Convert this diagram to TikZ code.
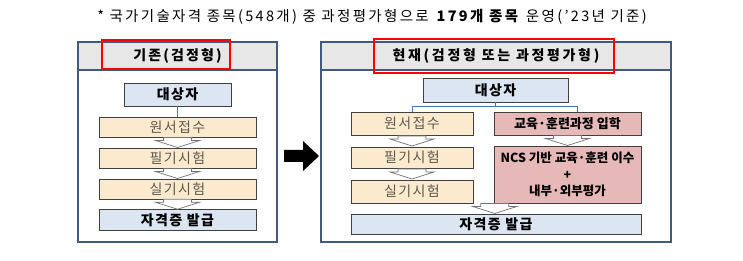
\documentclass[tikz,border=0pt]{standalone}
\usepackage{fontspec}
\setmainfont{Noto Sans CJK KR}
\usetikzlibrary{positioning,calc}
\definecolor{panelblue}{RGB}{65,90,125}
\definecolor{hdrgray}{RGB}{231,231,231}
\definecolor{boxblue}{RGB}{220,230,242}
\definecolor{boxbeige}{RGB}{252,234,206}
\definecolor{boxpink}{RGB}{230,185,184}
\definecolor{boxline}{RGB}{64,64,64}
\definecolor{linkblue}{RGB}{68,114,196}
\definecolor{steptext}{RGB}{95,88,80}
\tikzset{
  panel/.style    ={draw=panelblue,line width=1.2pt,fill=white,inner sep=0pt},
  hdrstrip/.style ={draw=panelblue,line width=1.2pt,fill=hdrgray,inner sep=0pt,
                    font=\fontsize{14}{16}\selectfont\bfseries\addfontfeature{LetterSpace=15}},
  markbox/.style  ={draw=red,line width=1.6pt,inner sep=0pt},
  tgtbox/.style   ={draw=boxline,line width=0.9pt,fill=boxblue,inner sep=0pt,
                    font=\fontsize{14}{16}\selectfont\bfseries\addfontfeature{LetterSpace=10}},
  stepbox/.style  ={draw=boxline,line width=0.9pt,fill=boxbeige,inner sep=0pt,text=steptext,
                    font=\fontsize{14}{16}\selectfont\addfontfeature{LetterSpace=10}},
  edubox/.style   ={draw=boxline,line width=0.9pt,fill=boxpink,inner sep=0pt,align=center,
                    font=\fontsize{12.5}{16.5}\selectfont\bfseries},
  link/.style     ={draw=linkblue,line width=0.8pt},
  hollowdown/.pic ={\draw[fill=white,draw=black!55,line width=0.7pt]
                    (-14,-5) -- (14,-5) -- (14,-2) -- (22,-2) -- (0,5) -- (-22,-2) -- (-14,-2) -- cycle;},
}
\begin{document}
\begin{tikzpicture}[x=1pt,y=-1pt]
\useasboundingbox (0,0) rectangle (743,261);
% ---- note line ----
\node[font=\fontsize{14.5}{16}\selectfont\addfontfeature{LetterSpace=16}] (note) at (372,17)
  {* 국가기술자격 종목(548개) 중 과정평가형으로 \textbf{179개 종목} 운영('23년 기준)};
% ---- left panel : 기존 ----
\node[panel,minimum width=199,minimum height=200] (panelL) at (177.5,142) {};
\node[hdrstrip,minimum width=199,minimum height=28] (hdrL) at (177.5,56) {기존(검정형)};
\node[markbox,minimum width=128,minimum height=29] (markL) at (166,54.5) {};
\node[tgtbox,minimum width=107,minimum height=23] (tgtL) at (177.5,94.5) {대상자};
\node[stepbox,minimum width=157,minimum height=20] (appL) at (177.5,127) {원서접수};
\node[stepbox,minimum width=157,minimum height=20] (wrtL) at (177.5,158) {필기시험};
\node[stepbox,minimum width=157,minimum height=20] (prcL) at (177.5,189) {실기시험};
\node[tgtbox,minimum width=157,minimum height=21] (issL) at (177.5,220) {자격증 발급};
\draw[link] (tgtL.south) -- (appL.north);
% ---- right panel : 현재 ----
\node[panel,minimum width=350,minimum height=200] (panelR) at (496,142) {};
\node[hdrstrip,minimum width=350,minimum height=28,
      font=\fontsize{14}{16}\selectfont\bfseries\addfontfeature{LetterSpace=19}] (hdrR) at (496,56)
  {현재(검정형 또는 과정평가형)};
\node[markbox,minimum width=240,minimum height=34] (markR) at (494,56) {};
\node[tgtbox,minimum width=145,minimum height=24] (tgtR) at (495.5,90) {대상자};
\node[stepbox,minimum width=122,minimum height=23] (appR) at (412,123.5) {원서접수};
\node[stepbox,minimum width=122,minimum height=21] (wrtR) at (412,157.5) {필기시험};
\node[stepbox,minimum width=122,minimum height=23] (prcR) at (412,191.5) {실기시험};
\node[edubox,minimum width=147,minimum height=23,font=\fontsize{13}{16}\selectfont\bfseries]
  (eduR) at (567.5,123.5) {교육·훈련과정 입학};
\node[edubox,minimum width=147,minimum height=57] (ncsR) at (567.5,174.5)
  {NCS 기반 교육·훈련 이수\\+\\내부·외부평가};
\node[tgtbox,minimum width=290,minimum height=20] (issR) at (496,224) {자격증 발급};
\draw[link] (tgtR.south) -- ++(0,4) coordinate (fork);
\draw[link] (fork) -| (appR.north);
\draw[link] (fork) -| ([xshift=10]eduR.north);
% ---- step arrows ----
\foreach \a/\b in {appL/wrtL,wrtL/prcL,prcL/issL,appR/wrtR,wrtR/prcR,eduR/ncsR}
  \pic at ($(\a.south)!0.5!(\b.north)$) {hollowdown};
\pic at ($(ncsR.south west)!0.5!(issR.north)$) {hollowdown};
% ---- change arrow ----
\fill (284,150) -- (303,150) -- (303,141) -- (319,156) -- (303,171) -- (303,162) -- (284,162) -- cycle;
\end{tikzpicture}
\end{document}
